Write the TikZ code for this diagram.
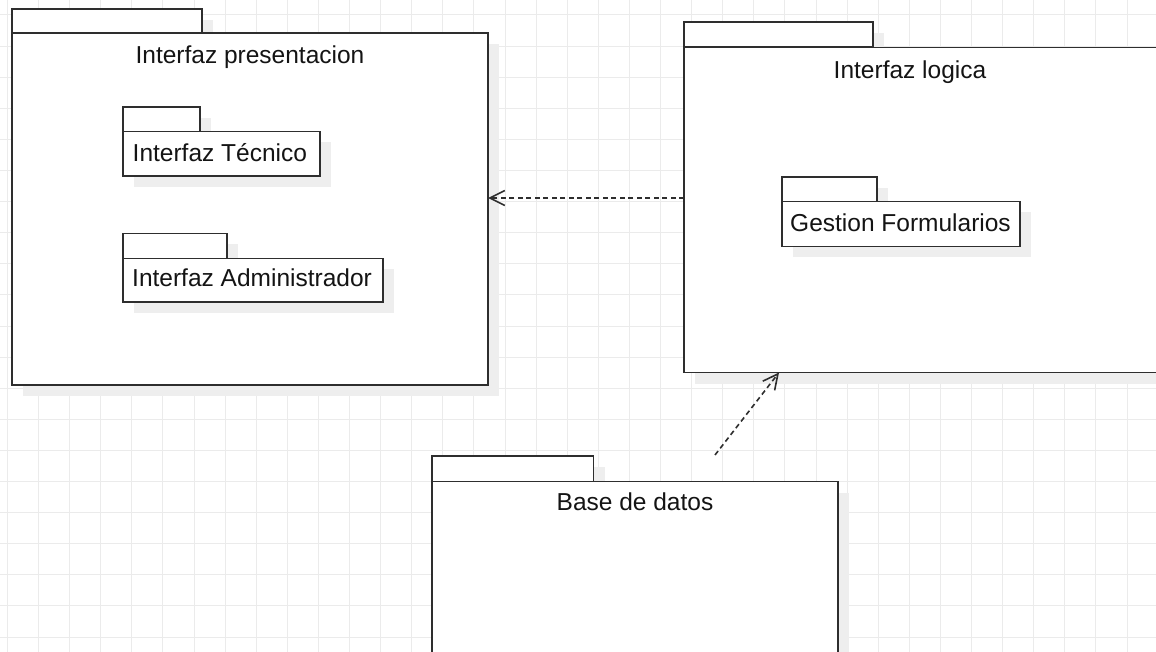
\documentclass[tikz,border=0pt]{standalone}
\usepackage{fontspec}
\setmainfont{Liberation Sans}
\usetikzlibrary{arrows.meta,shadows,calc}
\definecolor{linec}{HTML}{2E2E2E}
\definecolor{textc}{HTML}{141414}
\definecolor{gridc}{HTML}{EBEBEB}
\definecolor{shadc}{HTML}{EEEEEE}
\begin{document}
\begin{tikzpicture}[x=1pt,y=-1pt,
  pkgshape/.style={draw=linec, fill=white, line width=1.6pt, rectangle,
    inner sep=0pt, outer sep=0pt, anchor=north west,
    drop shadow={shadow xshift=11pt, shadow yshift=-11pt, fill=shadc, opacity=1}},
  ttl/.style={text=textc, font=\fontsize{24.5}{29}\selectfont, anchor=base, inner sep=0pt},
  subttl/.style={text=textc, font=\fontsize{24.5}{29}\selectfont, anchor=base west, inner sep=0pt},
  dep/.style={draw=linec, line width=1.6pt, dash pattern=on 5pt off 3.5pt,
    -{Straight Barb[length=15pt,width=15pt,line width=1.6pt]}}
]
\useasboundingbox (0,0) rectangle (1156,652);
\clip (0,0) rectangle (1156,652);
\fill[white] (0,0) rectangle (1156,652);
\foreach \i in {0,...,37} \draw[gridc, line width=1pt] ({7.4+31.1*\i},0) -- ++(0,652);
\foreach \j in {0,...,20} \draw[gridc, line width=1pt] (0,{15+31.1*\j}) -- ++(1156,0);

% Interfaz presentacion
\node[pkgshape, minimum width=190pt, minimum height=24pt] (presTab) at (12,9) {};
\node[pkgshape, minimum width=476pt, minimum height=352pt] (presB) at (12,33) {};
\node[ttl] (presT) at ($(presB.north)+(0,30.5)$) {Interfaz presentacion};

% Interfaz Tecnico
\node[pkgshape, minimum width=77pt, minimum height=24.5pt] (tecTab) at (123,107) {};
\node[pkgshape, minimum width=197pt, minimum height=44.5pt] (tecB) at (123,131.5) {};
\node[subttl] (tecT) at ($(tecB.north west)+(9.5,30)$) {Interfaz Técnico};

% Interfaz Administrador
\node[pkgshape, minimum width=104pt, minimum height=25pt] (admTab) at (123,233.5) {};
\node[pkgshape, minimum width=260pt, minimum height=43.5pt] (admB) at (123,258.5) {};
\node[subttl] (admT) at ($(admB.north west)+(9,28.5)$) {Interfaz Administrador};

% Interfaz logica
\node[pkgshape, minimum width=189pt, minimum height=25pt] (logTab) at (684,22) {};
\node[pkgshape, minimum width=500pt, minimum height=325pt] (logB) at (684,47.5) {};
\node[ttl] (logT) at ($(logB.north west)+(226,31)$) {Interfaz logica};

% Gestion Formularios
\node[pkgshape, minimum width=95pt, minimum height=24.5pt] (gesTab) at (782,177) {};
\node[pkgshape, minimum width=238pt, minimum height=45pt] (gesB) at (782,201.5) {};
\node[subttl] (gesT) at ($(gesB.north west)+(8,30.5)$) {Gestion Formularios};

% Base de datos
\node[pkgshape, minimum width=161.5pt, minimum height=25.5pt] (dbTab) at (432,456) {};
\node[pkgshape, minimum width=406pt, minimum height=200pt] (dbB) at (432,481.5) {};
\node[ttl] (dbT) at ($(dbB.north)+(0,29)$) {Base de datos};

% dependencies
\draw[dep] ([yshift=12pt]logB.west) -- ([yshift=12pt]logB.west -| presB.east);
\coordinate (dbStart) at (715,455);
\draw[dep] (dbStart) -- ([xshift=95pt]logB.south west);
\end{tikzpicture}
\end{document}
